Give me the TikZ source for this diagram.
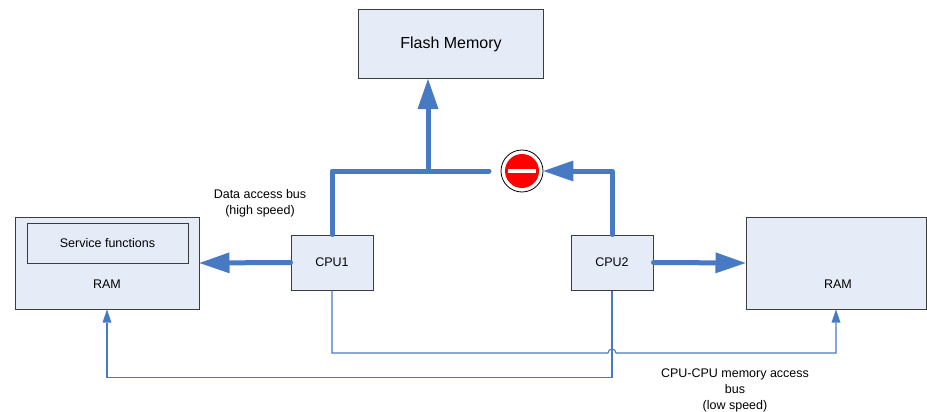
\documentclass[tikz,border=0pt]{standalone}
\usepackage{fontspec}
\setmainfont{Liberation Sans}
\usetikzlibrary{arrows.meta,calc}

\definecolor{busblue}{RGB}{72,122,196}
\definecolor{boxfill}{RGB}{230,236,247}
\definecolor{boxline}{RGB}{60,60,60}

\tikzset{
	unit/.style={draw=boxline, fill=boxfill, line width=1pt, inner sep=0pt, font=\fontsize{12.5}{15}\selectfont},
	note/.style={align=center, inner sep=0pt, font=\fontsize{12.5}{16}\selectfont},
	fastbus/.style={busblue, line width=5pt, line cap=round, line join=round},
	fastarrow/.style={fastbus, -{Triangle[length=30pt,width=21pt,line width=0pt]}},
	slowbus/.style={busblue, line width=1.1pt, -{Triangle[length=13pt,width=9pt,line width=0pt]}},
	stopsign/.style={circle, draw=black, line width=0.8pt, fill=white, minimum size=42pt, inner sep=0pt,
		path picture={
			\fill[red] (path picture bounding box.center) circle (17pt);
			\fill[white] ($(path picture bounding box.center)+(-14pt,-2pt)$) rectangle ++(28pt,4pt);
		}},
}

\begin{document}
\begin{tikzpicture}[x=1pt,y=-1pt]
	%%%%% START %%%%%
	
	\useasboundingbox (0,0) rectangle (927,412);
	
	\node[unit, minimum width=185pt, minimum height=69pt, font=\fontsize{16}{19}\selectfont] (flash) at (451,44) {Flash Memory};
	
	\node[unit, minimum width=82pt, minimum height=55pt] (cpu1) at (332,262.5) {CPU1};
	\node[unit, minimum width=82pt, minimum height=55pt] (cpu2) at (612,262.5) {CPU2};
	
	\node[unit, minimum width=184pt, minimum height=92pt] (ramL) at (107,263) {};
	\node[unit, minimum width=161pt, minimum height=40pt] (service) at (107.5,243) {Service functions};
	\node[note] (ramLtxt) at (107,284) {RAM};
	
	\node[unit, minimum width=180pt, minimum height=92pt] (ramR) at (836,263) {};
	\node[note] (ramRtxt) at (838,284) {RAM};
	
	\node[stopsign] (stop) at (522,171) {};
	
	\node[note] (fastlbl) at (260,203) {Data access bus\\(high speed)};
	\node[note] (slowlbl) at (735,390) {CPU-CPU memory access\\bus\\(low speed)};
	
	% data access bus
	\coordinate (busend) at (489,171);
	\coordinate (tap) at (428,171);
	\draw[fastbus] (cpu1.north) |- (busend);
	\draw[fastarrow] (tap) -- (tap |- flash.south);
	\draw[fastarrow] (cpu2.north) |- (stop.east);
	\draw[fastarrow] (cpu1.west) -- (ramL.east);
	\draw[fastarrow] (cpu2.east) -- (ramR.west);
	
	% cpu-cpu bus
	\coordinate (hop) at (608,353);
	\draw[slowbus] (cpu1.south) |- (hop) arc[start angle=180, end angle=0, radius=4pt] -| (ramR.south);
	\draw[slowbus] (cpu2.south) -- ++(0,87) -| (ramL.south);
	
	%%%%% END %%%%%
\end{tikzpicture}
\end{document}
